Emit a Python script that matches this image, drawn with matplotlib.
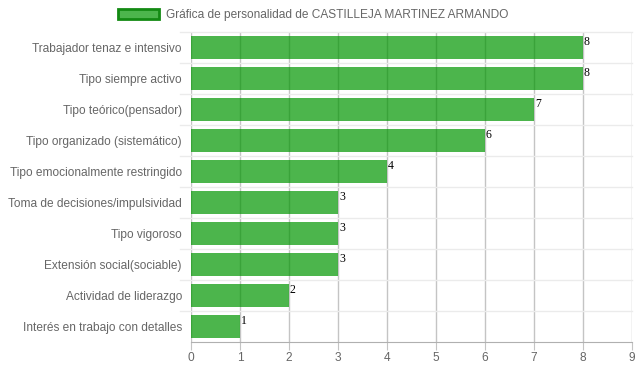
import matplotlib.pyplot as plt
from matplotlib.patches import Patch

categories = [
    "Trabajador tenaz e intensivo",
    "Tipo siempre activo",
    "Tipo teórico(pensador)",
    "Tipo organizado (sistemático)",
    "Tipo emocionalmente restringido",
    "Toma de decisiones/impulsividad",
    "Tipo vigoroso",
    "Extensión social(sociable)",
    "Actividad de liderazgo",
    "Interés en trabajo con detalles",
]
values = [8, 8, 7, 6, 4, 3, 3, 3, 2, 1]
x_ticks = list(range(0, 10))

bar_color = (0, 150 / 255, 0, 0.7)
text_color = "#666666"

plt.rcParams["font.family"] = ["Liberation Sans", "DejaVu Sans"]

fig = plt.figure(figsize=(6.39, 3.72), dpi=100)
ax = fig.add_axes([191 / 639, 1 - 342 / 372, 441 / 639, 310 / 372])

pos = list(range(len(categories)))
ax.barh(pos, values, height=0.72, color=bar_color, zorder=3)

for p, v in zip(pos, values):
    ax.text(v + 0.02, p - 0.36, str(v), family="Liberation Serif", fontsize=8.5,
            color="black", ha="left", va="top", zorder=4)

ax.set_xlim(0, 9)
ax.set_ylim(len(categories) - 0.5, -0.5)
ax.set_xticks(x_ticks)
ax.set_yticks(pos)
ax.set_yticklabels(categories)
ax.tick_params(axis="y", length=0, pad=6.5, labelsize=8.6, labelcolor=text_color)
ax.tick_params(axis="x", length=6, color="#c4c4c4", labelsize=8.6, labelcolor=text_color, pad=1.5)

# vertical grid, drawn under the translucent bars
for x in x_ticks:
    ax.axvline(x, color="#c4c4c4", linewidth=1, zorder=1)
# horizontal separators between categories, extending left of axis
for b in [i - 0.5 for i in range(len(categories))]:
    ax.plot([-0.22, 9], [b, b], color="#ebebeb", linewidth=1, zorder=1, clip_on=False)

for side in ["top", "right", "left"]:
    ax.spines[side].set_visible(False)
ax.spines["bottom"].set_color("#b0b0b0")

handle = Patch(facecolor=bar_color, edgecolor="#138a13", linewidth=2)
fig.legend([handle], ["Gráfica de personalidad de CASTILLEJA MARTINEZ ARMANDO"],
           loc="center", bbox_to_anchor=(0.49, 1 - 15 / 372), frameon=False,
           fontsize=8.6, labelcolor=text_color, handlelength=3.4, handleheight=0.9,
           handletextpad=0.55)

fig.savefig("out.png", dpi=100)
